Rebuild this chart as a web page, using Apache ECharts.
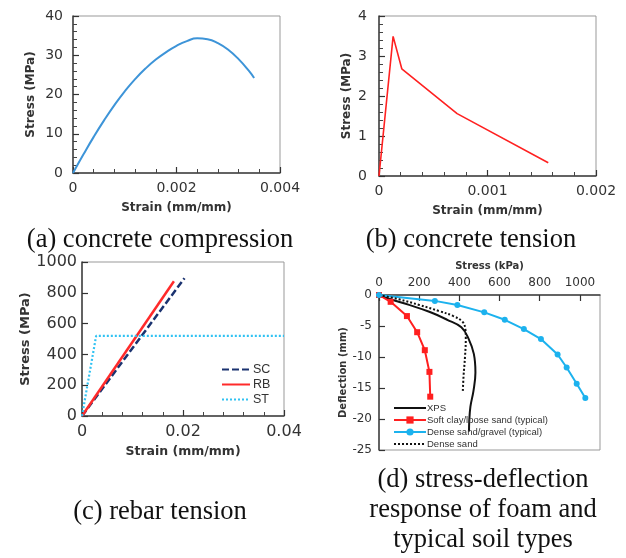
<!DOCTYPE html>
<html>
<head>
<meta charset="utf-8">
<script src="https://cdn.jsdelivr.net/npm/echarts@6/dist/echarts.min.js"></script>
<style>html,body{margin:0;padding:0;background:#fff}#c{width:626px;height:558px}</style>
</head>
<body>
<div id="c"></div>
<script>
// (a) concrete compression
var strainA = [0, 0.0002, 0.0004, 0.0006, 0.0008, 0.001, 0.0012, 0.0014, 0.0016, 0.0018, 0.002, 0.0022, 0.0024, 0.0026, 0.0028, 0.003, 0.0032, 0.0034, 0.0035];
var stressA = [0, 4.7, 9.2, 13.4, 17.3, 20.8, 23.9, 26.6, 28.9, 30.8, 32.4, 33.6, 34.3, 34.1, 33.1, 31.4, 29.0, 26.0, 24.2];
// (b) concrete tension
var strainB = [0, 0.00013, 0.00021, 0.00072, 0.00156];
var stressB = [0, 3.49, 2.68, 1.56, 0.33];
// (c) rebar tension
var strainSC = [0, 0.0203];
var stressSC = [0, 895];
var strainRB = [0, 0.0182];
var stressRB = [0, 875];
var strainST = [0, 0.0028, 0.04];
var stressST = [0, 520, 520];
// (d) stress-deflection
var xpsStress = [0, 50, 150, 250, 340, 410, 445, 472, 480, 470, 455, 449, 448];
var xpsDefl = [0, -0.6, -1.6, -2.7, -4.0, -5.2, -7.0, -9.5, -12.5, -15.5, -18.0, -20.5, -22.0];
var clayStress = [0, 58, 139, 190, 228, 251, 255];
var clayDefl = [0, -1.1, -3.4, -6.0, -8.9, -12.4, -16.4];
var gravelStress = [0, 278, 390, 524, 626, 721, 806, 889, 934, 984, 1027];
var gravelDefl = [0, -0.95, -1.6, -2.8, -4.0, -5.5, -7.1, -9.6, -11.7, -14.3, -16.6];
var sandStress = [0, 100, 200, 300, 370, 415, 430, 432, 428, 421, 417];
var sandDefl = [0, -0.7, -1.6, -2.6, -3.4, -4.3, -5.5, -7.0, -10.0, -13.0, -15.6];

function pairs(xs, ys) { return xs.map(function (x, i) { return [x, ys[i]]; }); }
function fmt(v) { return String(+(+v).toPrecision(6)); }

var FONT = 'DejaVu Sans';
var AX = '#404040';
function tickCfg(extra) {
  return {
    axisTick: { show: true, inside: true, length: 6, lineStyle: { color: '#333', width: 1.2 } },
    minorTick: { show: !!extra.minor, splitNumber: 5, length: 4, lineStyle: { color: '#444', width: 1 } }
  };
}
function xAx(gi, min, max, interval, fs, name, gap, extra) {
  var t = tickCfg(extra);
  var o = {
    type: 'value', gridIndex: gi, min: min, max: max, interval: interval,
    name: name, nameLocation: 'middle', nameGap: gap,
    nameTextStyle: { fontFamily: FONT, fontWeight: 'bold', fontSize: extra.nameSize || 12, color: '#333' },
    axisLine: { show: true, onZero: false, lineStyle: { color: AX, width: 1.5 } },
    axisTick: t.axisTick, minorTick: t.minorTick,
    splitLine: { show: false },
    axisLabel: { fontFamily: FONT, fontSize: fs, color: '#333', margin: extra.margin || 8, showMaxLabel: extra.showMax !== false, formatter: fmt }
  };
  if (extra.position) o.position = extra.position;
  return o;
}
function yAx(gi, min, max, interval, fs, name, gap, extra) {
  var t = tickCfg(extra);
  return {
    type: 'value', gridIndex: gi, min: min, max: max, interval: interval,
    name: name, nameLocation: 'middle', nameGap: gap, nameRotate: 90,
    nameTextStyle: { fontFamily: FONT, fontWeight: 'bold', fontSize: extra.nameSize || 12, color: '#333' },
    axisLine: { show: true, onZero: false, lineStyle: { color: AX, width: 1.5 } },
    axisTick: t.axisTick, minorTick: t.minorTick,
    splitLine: { show: false },
    axisLabel: { fontFamily: FONT, fontSize: fs, color: '#333', margin: extra.margin || 8, formatter: fmt }
  };
}

var gridStyle = { show: true, borderColor: '#999', borderWidth: 1, backgroundColor: 'transparent' };
var hide = { opacity: 0 };
var option = {
  animation: false,
  backgroundColor: '#fff',
  grid: [
    Object.assign({ left: 73, top: 16, width: 207, height: 157 }, gridStyle),
    Object.assign({ left: 379, top: 16, width: 217, height: 160 }, gridStyle),
    Object.assign({ left: 82, top: 262, width: 202, height: 154 }, gridStyle),
    Object.assign({ left: 379, top: 295, width: 221, height: 155 }, gridStyle)
  ],
  xAxis: [
    xAx(0, 0, 0.004, 0.002, 14, 'Strain (mm/mm)', 29, { minor: true }),
    xAx(1, 0, 0.002, 0.001, 14, 'Strain (mm/mm)', 29, { minor: true }),
    xAx(2, 0, 0.04, 0.02, 16, 'Strain (mm/mm)', 29, { minor: true, nameSize: 12.5 }),
    xAx(3, 0, 1100, 200, 12, 'Stress (kPa)', 24, { position: 'top', showMax: false, nameSize: 10, margin: 6 })
  ],
  yAxis: [
    yAx(0, 0, 40, 10, 14, 'Stress (MPa)', 36, { minor: true, margin: 10 }),
    yAx(1, 0, 4, 1, 14, 'Stress (MPa)', 26, { minor: true, margin: 12 }),
    yAx(2, 0, 1000, 200, 16, 'Stress (MPa)', 47, { nameSize: 13, margin: 5 }),
    yAx(3, -25, 0, 5, 12, 'Deflection (mm)', 31, { nameSize: 10, margin: 7 })
  ],
  legend: [
    {
      orient: 'vertical', left: 216, top: 358, itemWidth: 28, itemHeight: 12, itemGap: 2,
      textStyle: { fontFamily: 'Liberation Sans', fontSize: 12.5, color: '#333', padding: [0, 0, 0, -2] },
      data: [{ name: 'SC', itemStyle: hide }, { name: 'RB', itemStyle: hide }, { name: 'ST', itemStyle: hide }]
    },
    {
      orient: 'vertical', left: 388, top: 398, itemWidth: 32, itemHeight: 9, itemGap: 2,
      textStyle: { fontFamily: 'Liberation Sans', fontSize: 9.5, color: '#333', padding: [0, 0, 0, -4] },
      data: [{ name: 'XPS', itemStyle: hide }, 'Soft clay/loose sand (typical)', 'Dense sand/gravel (typical)', { name: 'Dense sand', itemStyle: hide }]
    }
  ],
  series: [
    { name: 'a', type: 'line', xAxisIndex: 0, yAxisIndex: 0, data: pairs(strainA, stressA), smooth: true, symbol: 'none', lineStyle: { color: '#3d94d8', width: 2 } },
    { name: 'b', type: 'line', xAxisIndex: 1, yAxisIndex: 1, data: pairs(strainB, stressB), symbol: 'none', lineStyle: { color: '#ff2121', width: 1.6 } },
    { name: 'SC', type: 'line', xAxisIndex: 2, yAxisIndex: 2, data: pairs(strainSC, stressSC), symbol: 'none', itemStyle: { color: '#1b3370' }, lineStyle: { color: '#1b3370', width: 2.5, type: [7, 3] } },
    { name: 'RB', type: 'line', xAxisIndex: 2, yAxisIndex: 2, data: pairs(strainRB, stressRB), symbol: 'none', itemStyle: { color: '#ff2a2a' }, lineStyle: { color: '#ff2a2a', width: 2.5 } },
    { name: 'ST', type: 'line', xAxisIndex: 2, yAxisIndex: 2, data: pairs(strainST, stressST), symbol: 'none', itemStyle: { color: '#30c2f2' }, lineStyle: { color: '#30c2f2', width: 2.2, type: [2, 2] } },
    { name: 'XPS', type: 'line', xAxisIndex: 3, yAxisIndex: 3, data: pairs(xpsStress, xpsDefl), smooth: 0.4, symbol: 'none', itemStyle: { color: '#111' }, lineStyle: { color: '#111', width: 2 } },
    { name: 'Soft clay/loose sand (typical)', type: 'line', xAxisIndex: 3, yAxisIndex: 3, data: pairs(clayStress, clayDefl), symbol: 'rect', symbolSize: 6, itemStyle: { color: '#ff1f1f' }, lineStyle: { color: '#ff1f1f', width: 2 } },
    { name: 'Dense sand/gravel (typical)', type: 'line', xAxisIndex: 3, yAxisIndex: 3, data: pairs(gravelStress, gravelDefl), symbol: 'circle', symbolSize: 6, itemStyle: { color: '#1cb2ee' }, lineStyle: { color: '#1cb2ee', width: 2 } },
    { name: 'Dense sand', type: 'line', xAxisIndex: 3, yAxisIndex: 3, data: pairs(sandStress, sandDefl), smooth: 0.4, symbol: 'none', itemStyle: { color: '#111' }, lineStyle: { color: '#111', width: 2, type: [2, 2] } }
  ],
  graphic: [
    { type: 'text', x: 160, y: 240, style: { text: '(a) concrete compression', font: '26.5px "Liberation Serif"', fill: '#111', align: 'center', verticalAlign: 'middle' } },
    { type: 'text', x: 471, y: 240, style: { text: '(b) concrete tension', font: '26.5px "Liberation Serif"', fill: '#111', align: 'center', verticalAlign: 'middle' } },
    { type: 'text', x: 160, y: 512, style: { text: '(c) rebar tension', font: '26.5px "Liberation Serif"', fill: '#111', align: 'center', verticalAlign: 'middle' } },
    { type: 'text', x: 483, y: 510, style: { text: '(d) stress-deflection\nresponse of foam and\ntypical soil types', font: '26.5px "Liberation Serif"', lineHeight: 30, fill: '#111', align: 'center', verticalAlign: 'middle' } }
  ]
};
var chart = echarts.init(document.getElementById('c'), null, { renderer: 'canvas' });
chart.setOption(option);
</script>
</body>
</html>
